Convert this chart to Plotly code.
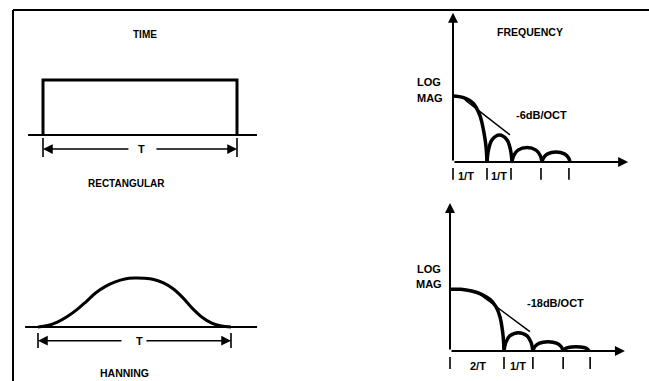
import plotly.graph_objects as go

W, H = 649, 381

# ---------------- data ----------------
# Time domain, rectangular window (t in units of T, amplitude 0..1)
rect_t = [0, 0, 1, 1]
rect_amp = [0, 1, 1, 0]
rect_base_t = [-0.077, 1.103]

# Time domain, Hanning window
hann_t = [0, 0.05, 0.1, 0.15, 0.2, 0.25, 0.3, 0.35, 0.4, 0.45, 0.5,
          0.55, 0.6, 0.65, 0.7, 0.75, 0.8, 0.85, 0.9, 0.95, 1.0]
hann_amp = [0, 0.03, 0.1, 0.21, 0.35, 0.52, 0.7, 0.83, 0.92, 0.98, 1.0,
            0.995, 0.97, 0.9, 0.78, 0.6, 0.38, 0.2, 0.08, 0.02, 0]
hann_base_t = [-0.067, 1.135]

# Frequency domain, rectangular (f in units of 1/T, log magnitude arbitrary)
rect_main_f = [0, 0.31, 0.6, 0.79, 0.91, 0.97, 1.0]
rect_main_mag = [1.0, 0.975, 0.887, 0.705, 0.446, 0.238, 0]
rect_lobe1_f = [1.0, 1.044, 1.147, 1.368, 1.588, 1.691, 1.735]
rect_lobe1_mag = [0, 0.185, 0.336, 0.41, 0.336, 0.185, 0]
rect_lobe2_f = [1.735, 1.788, 1.912, 2.177, 2.441, 2.565, 2.618]
rect_lobe2_mag = [0, 0.099, 0.18, 0.22, 0.18, 0.099, 0]
rect_lobe3_f = [2.618, 2.667, 2.783, 3.03, 3.276, 3.392, 3.441]
rect_lobe3_mag = [0, 0.068, 0.123, 0.15, 0.123, 0.068, 0]
rect_asym_f = [0.353, 1.676]
rect_asym_mag = [0.94, 0.41]
rect_ticks_f = [0, 1.0, 1.706, 2.588, 3.41]
rect_tick_labels = ["1/T", "1/T"]
rect_tick_label_f = [0.38, 1.36]
rect_slope_label = "-6dB/OCT"

# Frequency domain, Hanning
hann_main_f = [0, 0.4, 0.8, 1.17, 1.48, 1.7, 1.85, 1.94, 1.98, 2.0]
hann_main_mag = [1, 1, 0.972, 0.919, 0.837, 0.718, 0.556, 0.34, 0.178, 0]
hann_lobe1_f = [2.0, 2.064, 2.214, 2.535, 2.856, 3.006, 3.07]
hann_lobe1_mag = [0, 0.134, 0.244, 0.297, 0.244, 0.134, 0]
hann_lobe2_f = [3.07, 3.137, 3.294, 3.63, 3.966, 4.123, 4.19]
hann_lobe2_mag = [0, 0.068, 0.124, 0.151, 0.124, 0.068, 0]
hann_lobe3_f = [4.19, 4.248, 4.382, 4.67, 4.958, 5.092, 5.15]
hann_lobe3_mag = [0, 0.032, 0.057, 0.07, 0.057, 0.032, 0]
hann_asym_f = [1.04, 2.96]
hann_asym_mag = [0.94, 0.313]
hann_ticks_f = [0, 2.0, 3.07, 4.19, 5.19]
hann_tick_labels = ["2/T", "1/T"]
hann_tick_label_f = [1.04, 2.52]
hann_slope_label = "-18dB/OCT"

# ---------------- layout helpers ----------------
def clamp(v):
    return min(1.0, max(0.0, v))

def xdom(p0, v0, p1, v1, rng):
    s = (p1 - p0) / (v1 - v0)
    return [clamp((p0 + (rng[0] - v0) * s) / W), clamp((p0 + (rng[1] - v0) * s) / W)]

def ydom(p0, v0, p1, v1, rng):
    s = (p1 - p0) / (v1 - v0)
    return [clamp(1 - (p0 + (rng[0] - v0) * s) / H), clamp(1 - (p0 + (rng[1] - v0) * s) / H)]

panels = {
    # name: (x anchors, x range, y anchors, y range)
    "1": ((43, 0, 237, 1), [-0.2, 1.3], (135, 0, 80, 1), [-1.0, 2.1]),
    "2": ((38, 0, 231, 1), [-0.15, 1.3], (327, 0, 278, 1), [-1.0, 1.5]),
    "3": ((453, 0, 487, 1), [-1.2, 5.5], (162, 0, 96, 1), [-0.4, 2.35]),
    "4": ((450, 0, 504, 2), [-1.5, 6.8], (351, 0, 289.3, 1), [-0.45, 2.5]),
}

fig = go.Figure()
layout_axes = {}
for k, (xa, xr, ya, yr) in panels.items():
    sfx = "" if k == "1" else k
    layout_axes["xaxis" + sfx] = dict(domain=xdom(*xa, xr), range=xr, visible=False,
                                      anchor="y" + sfx, fixedrange=True)
    layout_axes["yaxis" + sfx] = dict(domain=ydom(*ya, yr), range=yr, visible=False,
                                      anchor="x" + sfx, fixedrange=True)

BLACK = "#000000"
FONT = "Liberation Sans, Arial, sans-serif"

def line(x, y, k, w, shape="linear"):
    sfx = "" if k == "1" else k
    fig.add_trace(go.Scatter(x=x, y=y, mode="lines", xaxis="x" + sfx, yaxis="y" + sfx,
                             line=dict(color=BLACK, width=w, shape=shape, smoothing=1.0),
                             hoverinfo="skip", showlegend=False, cliponaxis=False))

def ticks(xs, lo, hi, k, w=1.6):
    tx, ty = [], []
    for v in xs:
        tx += [v, v, None]
        ty += [lo, hi, None]
    line(tx, ty, k, w)

annotations = []

def text(s, x, y, k, size, bg=None):
    sfx = "" if k == "1" else k
    annotations.append(dict(text="<b>" + s + "</b>", x=x, y=y, xref="x" + sfx, yref="y" + sfx,
                            showarrow=False, font=dict(family=FONT, size=size, color=BLACK),
                            bgcolor=bg, borderpad=0, xanchor="center", yanchor="middle"))

def arrow(x, y, ax, ay, k, w=1.5, size=1.3):
    sfx = "" if k == "1" else k
    annotations.append(dict(text="", x=x, y=y, ax=ax, ay=ay, xref="x" + sfx, yref="y" + sfx,
                            axref="x" + sfx, ayref="y" + sfx, showarrow=True, arrowhead=2,
                            arrowsize=size, arrowwidth=w, arrowcolor=BLACK,
                            standoff=0, startstandoff=0))

# ---------------- panel 1: rectangular time window ----------------
line(rect_base_t, [0, 0], "1", 2)
line(rect_t, rect_amp, "1", 3)
ticks([rect_t[0], rect_t[-1]], -0.055, -0.4, "1")
arrow(0, -0.255, 0.448, -0.255, "1")
arrow(1, -0.255, 0.577, -0.255, "1")
text("T", 0.51, -0.255, "1", 11)
text("TIME", 0.526, 1.836, "1", 10)
text("RECTANGULAR", 0.428, -0.89, "1", 10)

# ---------------- panel 2: Hanning time window ----------------
line(hann_base_t, [0, 0], "2", 2)
line(hann_t, hann_amp, "2", 3, "spline")
ticks([hann_t[0], hann_t[-1]], -0.12, -0.43, "2")
arrow(0, -0.28, 0.44, -0.28, "2")
arrow(1, -0.28, 0.554, -0.28, "2")
text("T", 0.528, -0.28, "2", 11)
text("HANNING", 0.45, -0.945, "2", 10.5)

# ---------------- panel 3: rectangular spectrum ----------------
arrow(0, 2.26, 0, 0, "3", w=2, size=1.0)
arrow(5.15, 0, 0, 0, "3", w=2, size=1.0)
line(rect_main_f, rect_main_mag, "3", 3.5, "spline")
for fx, my in [(rect_lobe1_f, rect_lobe1_mag), (rect_lobe2_f, rect_lobe2_mag),
               (rect_lobe3_f, rect_lobe3_mag)]:
    line(fx, my, "3", 3.5, "spline")
line(rect_asym_f, rect_asym_mag, "3", 1.5)
ticks(rect_ticks_f, -0.09, -0.27, "3")
for lab, fx in zip(rect_tick_labels, rect_tick_label_f):
    text(lab, fx, -0.215, "3", 11)
text("LOG", -0.71, 1.217, "3", 11)
text("MAG", -0.68, 0.974, "3", 11)
text(rect_slope_label, 2.59, 0.71, "3", 11)
text("FREQUENCY", 2.26, 1.97, "3", 10.5)

# ---------------- panel 4: Hanning spectrum ----------------
arrow(0, 2.4, 0, 0, "4", w=2, size=1.0)
arrow(6.48, 0, 0, 0, "4", w=2, size=1.0)
line(hann_main_f, hann_main_mag, "4", 3.5, "spline")
for fx, my in [(hann_lobe1_f, hann_lobe1_mag), (hann_lobe2_f, hann_lobe2_mag),
               (hann_lobe3_f, hann_lobe3_mag)]:
    line(fx, my, "4", 3.5, "spline")
line(hann_asym_f, hann_asym_mag, "4", 1.5)
ticks(hann_ticks_f, -0.097, -0.29, "4")
for lab, fx in zip(hann_tick_labels, hann_tick_label_f):
    text(lab, fx, -0.25, "4", 11)
text("LOG", -0.78, 1.33, "4", 11)
text("MAG", -0.78, 1.08, "4", 11)
text(hann_slope_label, 3.91, 0.773, "4", 11)

# ---------------- frame ----------------
shapes = [
    dict(type="line", xref="paper", yref="paper", x0=13 / W, x1=1, y0=1 - 10 / H, y1=1 - 10 / H,
         line=dict(color=BLACK, width=2)),
    dict(type="line", xref="paper", yref="paper", x0=13 / W, x1=13 / W, y0=1 - 10 / H, y1=0,
         line=dict(color=BLACK, width=2)),
]

fig.update_layout(
    width=W, height=H, margin=dict(l=0, r=0, t=0, b=0),
    paper_bgcolor="white", plot_bgcolor="white",
    showlegend=False, annotations=annotations, shapes=shapes,
    **layout_axes,
)

fig.write_html("out.html", config={"displayModeBar": False})
